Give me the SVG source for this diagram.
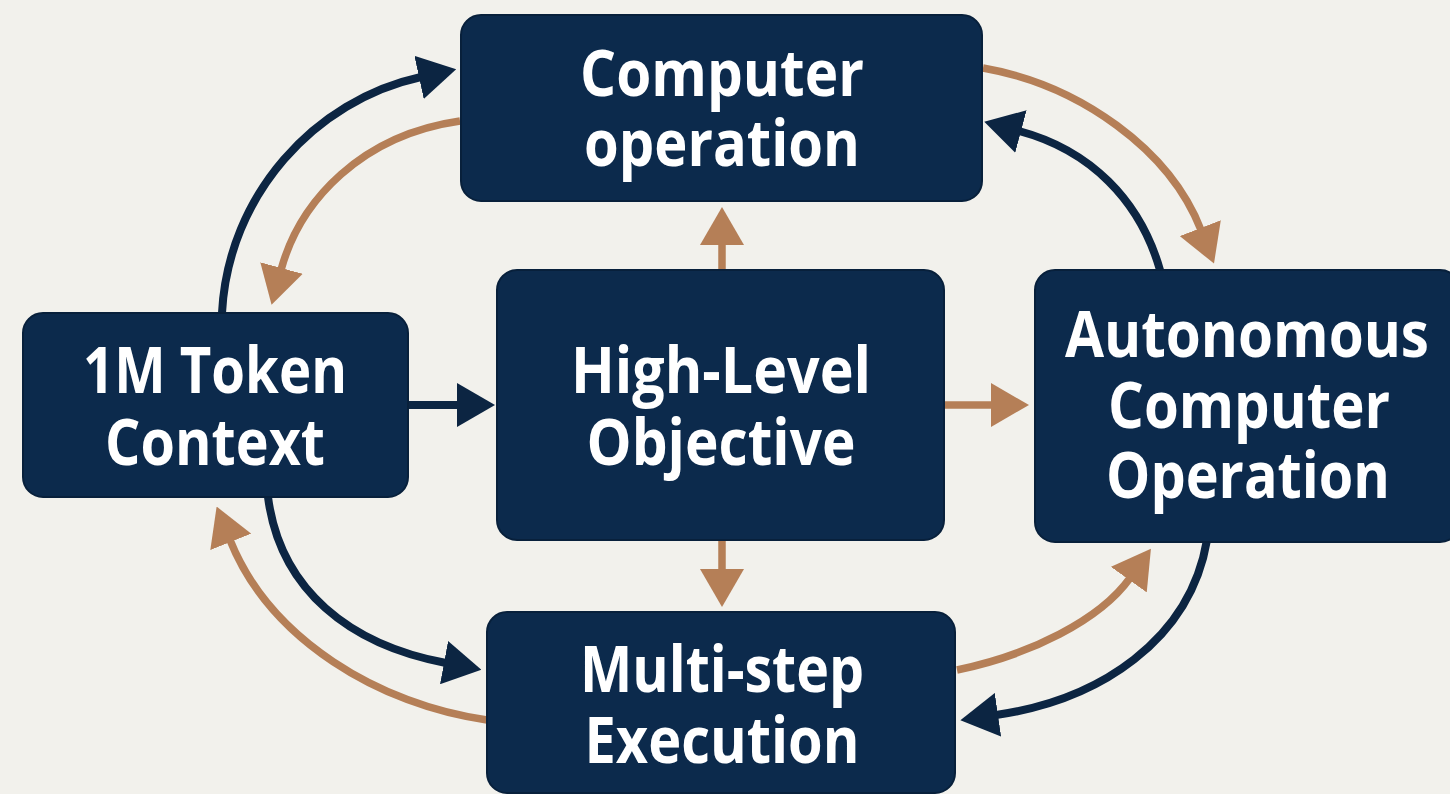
<svg xmlns="http://www.w3.org/2000/svg" width="1450" height="794" viewBox="0 0 1450 794">
  <style>
    .box { fill: #0c2a4c; stroke: #08203b; stroke-width: 2; }
    .label { font-family: "Open Sans", "Noto Sans", "DejaVu Sans", sans-serif; font-weight: 700; font-size: 65px; fill: #ffffff; text-anchor: middle; }
    .navy { fill: none; stroke: #0c2542; stroke-width: 8; stroke-linecap: butt; }
    .tan { fill: none; stroke: #b57f57; stroke-width: 7.5; stroke-linecap: butt; }
  </style>
  <defs>
    <marker id="headNavy" markerUnits="userSpaceOnUse" viewBox="0 0 38 44" markerWidth="38" markerHeight="44" refX="2" refY="22" orient="auto">
      <path d="M0,0 L38,22 L0,44 Z" fill="#0c2542"/>
    </marker>
    <marker id="headTan" markerUnits="userSpaceOnUse" viewBox="0 0 38 44" markerWidth="38" markerHeight="44" refX="2" refY="22" orient="auto">
      <path d="M0,0 L38,22 L0,44 Z" fill="#b57f57"/>
    </marker>
  </defs>

  <rect x="0" y="0" width="1450" height="794" fill="#f2f1ec"/>

  <!-- connectors -->
  <g id="connectors">
    <!-- straight links around the centre node -->
    <path class="navy" d="M408,405 L459,405" marker-end="url(#headNavy)"/>
    <path class="tan" d="M945,405 L993,405" marker-end="url(#headTan)"/>
    <path class="tan" d="M722,270 L722,243" marker-end="url(#headTan)"/>
    <path class="tan" d="M722,540 L722,571" marker-end="url(#headTan)"/>

    <!-- outer loop, upper left -->
    <path class="navy" d="M222,313 C228,195 315,100 421,77" marker-end="url(#headNavy)"/>
    <path class="tan" d="M460,121 C362,135 300,200 281,270" marker-end="url(#headTan)"/>

    <!-- outer loop, upper right -->
    <path class="tan" d="M983,68 C1080,85 1170,150 1201,230" marker-end="url(#headTan)"/>
    <path class="navy" d="M1160,270 C1140,200 1090,150 1019,131" marker-end="url(#headNavy)"/>

    <!-- outer loop, lower left -->
    <path class="navy" d="M268,497 C280,590 350,645 446,663" marker-end="url(#headNavy)"/>
    <path class="tan" d="M487,720 C380,705 270,640 230,540" marker-end="url(#headTan)"/>

    <!-- outer loop, lower right -->
    <path class="tan" d="M957,670 C1030,655 1100,620 1130,578" marker-end="url(#headTan)"/>
    <path class="navy" d="M1207,540 C1190,640 1100,700 996,715" marker-end="url(#headNavy)"/>
  </g>

  <g id="computer-operation">
    <rect class="box" x="461" y="15" width="521" height="186" rx="20"/>
    <text class="label" x="722" y="96" textLength="284" lengthAdjust="spacingAndGlyphs">Computer</text>
    <text class="label" x="722" y="166" textLength="276" lengthAdjust="spacingAndGlyphs">operation</text>
  </g>

  <g id="high-level-objective">
    <rect class="box" x="497" y="270" width="447" height="270" rx="20"/>
    <text class="label" x="721" y="393" textLength="300" lengthAdjust="spacingAndGlyphs">High-Level</text>
    <text class="label" x="721" y="465" textLength="269" lengthAdjust="spacingAndGlyphs">Objective</text>
  </g>

  <g id="token-context">
    <rect class="box" x="23" y="313" width="385" height="184" rx="20"/>
    <text class="label" x="215" y="393" textLength="264" lengthAdjust="spacingAndGlyphs">1M Token</text>
    <text class="label" x="215" y="465" textLength="220" lengthAdjust="spacingAndGlyphs">Context</text>
  </g>

  <g id="autonomous-operation">
    <rect class="box" x="1035" y="270" width="425" height="272" rx="20"/>
    <text class="label" x="1247" y="357" textLength="364" lengthAdjust="spacingAndGlyphs">Autonomous</text>
    <text class="label" x="1249" y="428" textLength="282" lengthAdjust="spacingAndGlyphs">Computer</text>
    <text class="label" x="1248" y="498" textLength="284" lengthAdjust="spacingAndGlyphs">Operation</text>
  </g>

  <g id="multi-step-execution">
    <rect class="box" x="487" y="612" width="468" height="181" rx="20"/>
    <text class="label" x="722" y="692" textLength="284" lengthAdjust="spacingAndGlyphs">Multi-step</text>
    <text class="label" x="722" y="763" textLength="275" lengthAdjust="spacingAndGlyphs">Execution</text>
  </g>
</svg>
